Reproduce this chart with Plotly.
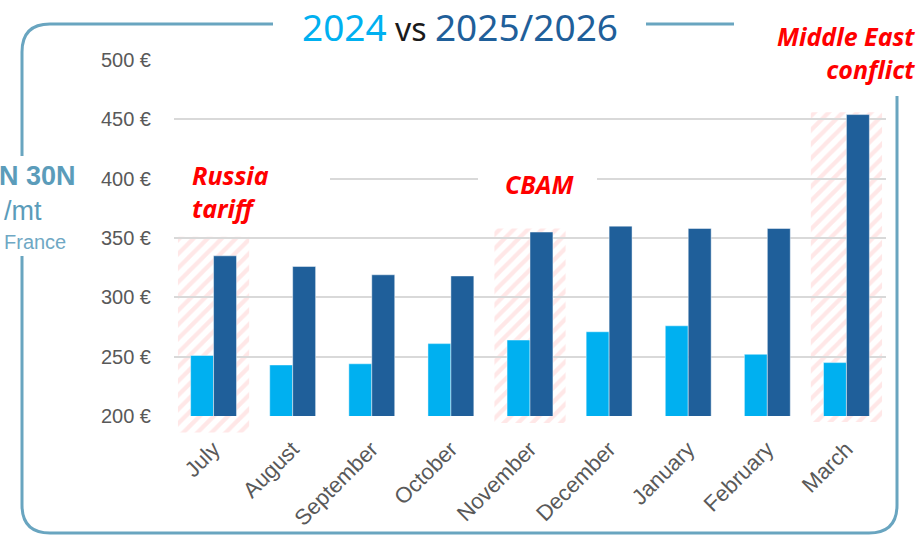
import plotly.graph_objects as go

# ---------------- data ----------------
months = ["July", "August", "September", "October", "November",
          "December", "January", "February", "March"]
prices_2024 = [251, 243, 244, 261, 264, 271, 276, 252, 245]
prices_2025_26 = [335, 326, 319, 318, 355, 360, 358, 358, 454]
y_ticks = [200, 250, 300, 350, 400, 450, 500]
y_tick_labels = [f"{v} €" for v in y_ticks]

# highlighted (hatched) months and their vertical extent
hl_index = [0, 4, 8]
hl_top = [351, 358, 456]
hl_bottom = [186, 194, 195]
hl_labels = ["Russia<br>tariff", "CBAM", "Middle East<br>conflict"]

# ---------------- style ----------------
W, H = 920, 535
C_LIGHT = "#00B0F0"
C_DARK = "#1F5F9A"
C_FRAME = "#69A5C0"
C_TICK = "#595959"
C_GRID = "#D9D9D9"
C_RED = "#FF0000"


def px(x):
    return x / W


def py(y):
    return 1 - y / H


PLOT_L, PLOT_R, PLOT_T, PLOT_B = 174, 886, 60, 416
Y0, Y1 = 200, 500
ppu = (PLOT_B - PLOT_T) / (Y1 - Y0)
HATCH_B = 440
hatch_y0 = Y0 - (HATCH_B - PLOT_B) / ppu

fig = go.Figure()

# hatched highlight regions (subplot xy, drawn beneath the bars subplot)
for i, top, bot in zip(hl_index, hl_top, hl_bottom):
    fig.add_trace(go.Scatter(
        x=[i - 0.45, i + 0.45, i + 0.45, i - 0.45, i - 0.45],
        y=[bot, bot, top, top, bot],
        mode="lines", line=dict(width=0), fill="toself",
        fillcolor="rgba(0,0,0,0)",
        fillpattern=dict(shape="/", fgcolor="#FFCFCF",
                         bgcolor="rgba(255,255,255,0)", size=10, solidity=0.42),
        hoverinfo="skip", showlegend=False, xaxis="x", yaxis="y"))

x_pos = list(range(len(months)))
fig.add_trace(go.Bar(x=x_pos, y=prices_2024, name="2024",
                     marker=dict(color=C_LIGHT, line=dict(color="rgba(255,255,255,0.45)", width=1)),
                     xaxis="x2", yaxis="y2", offsetgroup="a"))
fig.add_trace(go.Bar(x=x_pos, y=prices_2025_26, name="2025/2026",
                     marker=dict(color=C_DARK, line=dict(color="rgba(255,255,255,0.45)", width=1)),
                     xaxis="x2", yaxis="y2", offsetgroup="b"))

font_fam = "Liberation Sans, Arial, sans-serif"

fig.update_layout(
    width=W, height=H,
    margin=dict(l=0, r=0, t=0, b=0, autoexpand=False),
    paper_bgcolor="white", plot_bgcolor="rgba(0,0,0,0)",
    showlegend=False,
    barmode="group", bargap=0.42, bargroupgap=0,
    xaxis=dict(domain=[px(PLOT_L), px(PLOT_R)], range=[-0.5, 8.5],
               visible=False, fixedrange=True),
    yaxis=dict(domain=[py(HATCH_B), py(PLOT_T)], range=[hatch_y0, Y1],
               visible=False, fixedrange=True),
    xaxis2=dict(domain=[px(PLOT_L), px(PLOT_R)], range=[-0.5, 8.5], anchor="y2",
                tickmode="array", tickvals=x_pos, ticktext=months,
                tickangle=-45, showgrid=False, zeroline=False, showline=False,
                ticks="", ticklabelstandoff=15,
                tickfont=dict(family=font_fam, size=22, color=C_TICK)),
    yaxis2=dict(domain=[py(PLOT_B), py(PLOT_T)], range=[Y0, Y1], anchor="x2",
                tickmode="array", tickvals=y_ticks, ticktext=y_tick_labels,
                showgrid=True, gridcolor=C_GRID, gridwidth=2,
                zeroline=False, showline=False, ticks="",
                ticklabelstandoff=22,
                tickfont=dict(family=font_fam, size=20, color=C_TICK)),
)

# rounded frame
L, T, R, B, r = 22, 24, 897, 533, 28
path = (f"M {px(L + r)},{py(T)} L {px(R - r)},{py(T)} "
        f"Q {px(R)},{py(T)} {px(R)},{py(T + r)} "
        f"L {px(R)},{py(B - r)} Q {px(R)},{py(B)} {px(R - r)},{py(B)} "
        f"L {px(L + r)},{py(B)} Q {px(L)},{py(B)} {px(L)},{py(B - r)} "
        f"L {px(L)},{py(T + r)} Q {px(L)},{py(T)} {px(L + r)},{py(T)} Z")
shapes = [dict(type="path", path=path, xref="paper", yref="paper",
               line=dict(color=C_FRAME, width=3), layer="above")]

# white masks behind texts
for (x0, y0, x1, y1) in [(273, 0, 646, 47), (734, 0, 920, 96), (0, 156, 90, 256),
                         (174, 160, 330, 230), (478, 165, 597, 201)]:
    shapes.append(dict(type="rect", xref="paper", yref="paper",
                       x0=px(x0), x1=px(x1), y0=py(y1), y1=py(y0),
                       fillcolor="white", line=dict(width=0), layer="above"))
fig.update_layout(shapes=shapes)

ann = []
ann.append(dict(
    text=(f"<span style='color:{C_LIGHT}'>2024</span>"
          f"<span style='color:#1A1A1A;font-size:32px'> vs </span>"
          f"<span style='color:{C_DARK}'>2025/2026</span>"),
    x=px(460), y=py(26), xref="paper", yref="paper", showarrow=False,
    xanchor="center", yanchor="middle",
    font=dict(family="Noto Sans, sans-serif", size=37)))

red_font = dict(family="Noto Sans, sans-serif", size=25, color=C_RED,
                weight="bold", style="italic")
ann.append(dict(text=hl_labels[0], x=px(190), y=py(192), xref="paper", yref="paper",
                showarrow=False, xanchor="left", yanchor="middle", align="left",
                font=red_font))
ann.append(dict(text=hl_labels[1], x=px(540), y=py(184), xref="paper", yref="paper",
                showarrow=False, xanchor="center", yanchor="middle", font=red_font))
ann.append(dict(text=hl_labels[2], x=px(917), y=py(52), xref="paper", yref="paper",
                showarrow=False, xanchor="right", yanchor="middle", align="right",
                font=red_font))

ann.append(dict(text="<b>N 30N</b>", x=px(78), y=py(176), xref="paper", yref="paper",
                showarrow=False, xanchor="right", yanchor="middle",
                font=dict(family=font_fam, size=27, color="#5B9CBA")))
ann.append(dict(text="/mt", x=px(44), y=py(211), xref="paper", yref="paper",
                showarrow=False, xanchor="right", yanchor="middle",
                font=dict(family=font_fam, size=27, color="#5B9CBA")))
ann.append(dict(text="France", x=px(68), y=py(242), xref="paper", yref="paper",
                showarrow=False, xanchor="right", yanchor="middle",
                font=dict(family=font_fam, size=20, color="#6FA8C4")))
fig.update_layout(annotations=ann)

fig.write_html("out.html", config={"displayModeBar": False},
               post_script="document.body.style.margin='0';document.body.style.overflow='hidden';")
